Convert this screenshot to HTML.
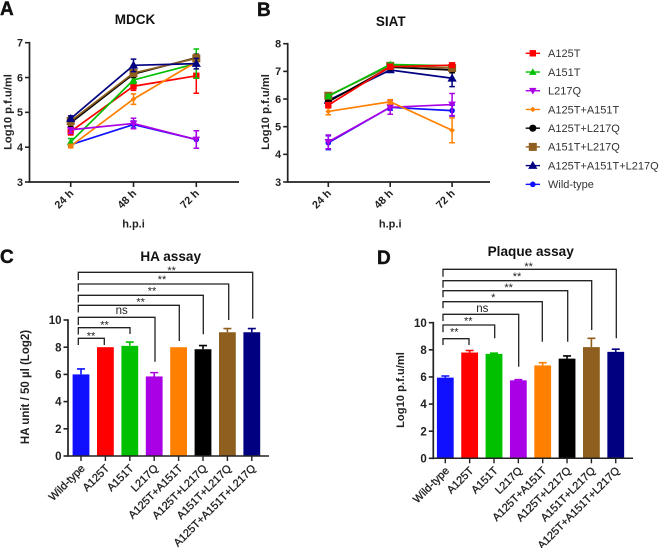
<!DOCTYPE html>
<html>
<head>
<meta charset="utf-8">
<title>Virus growth and assay charts</title>
<style>
html,body{margin:0;padding:0;background:#fff;width:660px;height:548px;overflow:hidden}
svg{display:block;font-family:"Liberation Sans",sans-serif;filter:blur(0.3px)}
</style>
</head>
<body>
<svg id="fig" xmlns="http://www.w3.org/2000/svg" width="660" height="548" viewBox="0 0 660 548"></svg>
<script>
// Shared categories
const timeLabels = ["24 h", "48 h", "72 h"];
const strains = ["A125T", "A151T", "L217Q", "A125T+A151T", "A125T+L217Q", "A151T+L217Q", "A125T+A151T+L217Q", "Wild-type"];
const barCategories = ["Wild-type", "A125T", "A151T", "L217Q", "A125T+A151T", "A125T+L217Q", "A151T+L217Q", "A125T+A151T+L217Q"];

// Panel A (MDCK) values
const mdckA125T = [4.45, 5.75, 6.05];
const mdckA151T = [4.15, 5.93, 6.4];
const mdckL217Q = [4.5, 4.68, 4.22];
const mdckDouble1 = [4.03, 5.38, 6.45];
const mdckDouble2 = [4.7, 6.1, 6.57];
const mdckDouble3 = [4.75, 6.13, 6.55];
const mdckTriple = [4.82, 6.35, 6.4];
const mdckWild = [4.07, 4.65, 4.22];
const mdckA125TErr = [0.1, 0.12, 0.5];
const mdckA151TErr = [0.1, 0.1, 0.42];
const mdckL217QErr = [0.1, 0.15, 0.25];
const mdckDouble1Err = [0.05, 0.15, 0.1];
const mdckDouble2Err = [0.1, 0.1, 0.1];
const mdckDouble3Err = [0.12, 0.1, 0.1];
const mdckTripleErr = [0.08, 0.18, 0.15];
const mdckWildErr = [0.04, 0.1, 0.25];

// Panel B (SIAT) values
const siatA125T = [5.78, 7.17, 7.22];
const siatA151T = [6.1, 7.25, 7.2];
const siatL217Q = [4.45, 5.7, 5.8];
const siatDouble1 = [5.55, 5.9, 4.87];
const siatDouble2 = [5.9, 7.15, 7.05];
const siatDouble3 = [6.12, 7.2, 7.12];
const siatTriple = [5.95, 7.05, 6.75];
const siatWild = [4.42, 5.7, 5.58];
const siatA125TErr = [0.08, 0.05, 0.05];
const siatA151TErr = [0.06, 0.05, 0.05];
const siatL217QErr = [0.25, 0.25, 0.4];
const siatDouble1Err = [0.12, 0.08, 0.45];
const siatDouble2Err = [0.08, 0.05, 0.1];
const siatDouble3Err = [0.08, 0.05, 0.08];
const siatTripleErr = [0.1, 0.08, 0.3];
const siatWildErr = [0.25, 0.1, 0.2];

// Panel C and D values
const haValues = [6, 8, 8.1, 5.85, 8, 7.85, 9.1, 9.1];
const haErrors = [0.4, 0, 0.28, 0.28, 0, 0.27, 0.27, 0.27];
const haSig = ["**", "**", "ns", "**", "**", "**", "**"];
const plaqueValues = [5.95, 7.8, 7.7, 5.75, 6.85, 7.35, 8.2, 7.85];
const plaqueErrors = [0.12, 0.15, 0.05, 0.05, 0.2, 0.2, 0.65, 0.2];
const plaqueSig = ["**", "**", "ns", "*", "**", "**", "**"];

// Axis ticks
const mdckTicks = [3, 4, 5, 6, 7];
const siatTicks = [3, 4, 5, 6, 7, 8];
const barTicks = [0, 2, 4, 6, 8, 10];

const strainColor = {"A125T":"#ff0000","A151T":"#00c000","L217Q":"#a900e6","A125T+A151T":"#ff8000","A125T+L217Q":"#000000","A151T+L217Q":"#8f5f1f","A125T+A151T+L217Q":"#000080","Wild-type":"#1010ff"};
const strainMarker = {"A125T":"sq","A151T":"up","L217Q":"down","A125T+A151T":"dia","A125T+L217Q":"circ","A151T+L217Q":"bigsq","A125T+A151T+L217Q":"up2","Wild-type":"circs"};
const INK = "#222";
const NS = "http://www.w3.org/2000/svg";
const fig = document.getElementById("fig");

function mk(tag, attrs, parent, txt){
  const e = document.createElementNS(NS, tag);
  for (const k in attrs) e.setAttribute(k, attrs[k]);
  if (txt !== undefined) e.textContent = txt;
  (parent || fig).appendChild(e);
  return e;
}
function group(name, parent){
  const g = mk("g", {}, parent);
  
  
  return g;
}
function label(name, parent, attrs, txt){
  const t = mk("text", attrs, parent, txt);
  
  
  return t;
}
function marker(parent, type, x, y, c){
  const s = {sq:3.2, bigsq:4, circ:3.6, circs:2.8};
  if (type === "sq" || type === "bigsq") mk("rect", {x:x-s[type], y:y-s[type], width:2*s[type], height:2*s[type], fill:c}, parent);
  else if (type === "circ" || type === "circs") mk("circle", {cx:x, cy:y, r:s[type], fill:c}, parent);
  else if (type === "up") mk("polygon", {points:`${x},${y-3.8} ${x+3.8},${y+2.9} ${x-3.8},${y+2.9}`, fill:c}, parent);
  else if (type === "up2") mk("polygon", {points:`${x},${y-4.8} ${x+4.6},${y+3.3} ${x-4.6},${y+3.3}`, fill:c}, parent);
  else if (type === "down") mk("polygon", {points:`${x},${y+3.8} ${x+3.8},${y-2.9} ${x-3.8},${y-2.9}`, fill:c}, parent);
  else mk("polygon", {points:`${x},${y-2.8} ${x+2.8},${y} ${x},${y+2.8} ${x-2.8},${y}`, fill:c}, parent);
}

function yAxis(g, axisX, scale, ticks, fs, tickLen){
  mk("line", {x1:axisX, x2:axisX, y1:scale(ticks[ticks.length-1])-0.8, y2:scale(ticks[0])+0.8, stroke:INK, "stroke-width":1.7}, g);
  ticks.forEach(t => {
    mk("line", {x1:axisX-tickLen, x2:axisX, y1:scale(t), y2:scale(t), stroke:INK, "stroke-width":1.6}, g);
    label("y-tick-label-" + t, g, {x:axisX-tickLen-2, y:scale(t)+fs*0.36, "text-anchor":"end", "font-size":fs, "font-weight":"bold", fill:INK}, t);
  });
}

function linePanel(cfg){
  const g = group(cfg.name);
  const sy = v => cfg.y0 + (v - cfg.vMin) * (cfg.yTop - cfg.y0) / (cfg.vMax - cfg.vMin);
  const sx = i => cfg.xs[0] + i * (cfg.xs[1] - cfg.xs[0]);
  yAxis(g, cfg.axisX, sy, cfg.ticks, 10.8, 4.5);
  mk("line", {x1:cfg.axisX, x2:cfg.xEnd, y1:cfg.y0, y2:cfg.y0, stroke:INK, "stroke-width":1.7}, g);
  timeLabels.forEach((t, i) => {
    const x = sx(i);
    mk("line", {x1:x, x2:x, y1:cfg.y0, y2:cfg.y0+5, stroke:INK, "stroke-width":1.6}, g);
    label("x-tick-label-" + t.replace(" ", ""), g, {x:x+3.5, y:cfg.y0+12, "text-anchor":"end", "font-size":10.8, "font-weight":"bold", fill:INK, transform:`rotate(-45 ${x+3.5} ${cfg.y0+12})`}, t);
  });
  cfg.order.forEach(name => {
    const k = strains.indexOf(name);
    const c = strainColor[name];
    const sg = group("series-" + name.toLowerCase().replace(/\+/g, "-"), g);
    const vals = cfg.values[k], errs = cfg.errors[k];
    mk("polyline", {points:vals.map((v, i) => sx(i) + "," + sy(v)).join(" "), fill:"none", stroke:c, "stroke-width":1.7}, sg);
    vals.forEach((v, i) => {
      const x = sx(i), a = sy(v + errs[i]), b = sy(v - errs[i]);
      mk("path", {d:`M${x} ${a}V${b}M${x-2.8} ${a}H${x+2.8}M${x-2.8} ${b}H${x+2.8}`, fill:"none", stroke:c, "stroke-width":1.5}, sg);
      marker(sg, strainMarker[name], x, sy(v), c);
    });
  });
  label("chart-title", g, {x:cfg.titleX, y:cfg.titleY, "text-anchor":"middle", "font-size":13.5, "font-weight":"bold", fill:"#111"}, cfg.title);
  label("x-axis-title", g, {x:sx(1), y:227.5, "text-anchor":"middle", "font-size":11, "font-weight":"bold", fill:INK}, "h.p.i");
  label("y-axis-title", g, {x:cfg.yLabelX, y:cfg.yLabelY, "text-anchor":"middle", "font-size":11.2, "font-weight":"bold", fill:INK, transform:`rotate(-90 ${cfg.yLabelX} ${cfg.yLabelY})`}, "Log10 p.f.u/ml");
}

function barPanel(cfg){
  const g = group(cfg.name);
  const sy = v => cfg.y0 + v * (cfg.yTop - cfg.y0) / 10;
  const sx = i => cfg.x0 + i * cfg.step;
  const colors = barCategories.map(n => strainColor[n]);
  barCategories.forEach((n, i) => {
    const x = sx(i), v = cfg.values[i], e = cfg.errors[i];
    const bar = mk("rect", {x:x-8.4, y:sy(v), width:16.8, height:cfg.y0-sy(v), fill:colors[i]}, g);
    
    
    if (e > 0) mk("path", {d:`M${x} ${sy(v)}V${sy(v+e)}M${x-4} ${sy(v+e)}H${x+4}`, fill:"none", stroke:colors[i], "stroke-width":1.6}, g);
  });
  yAxis(g, cfg.axisX, sy, barTicks, 11.5, 4.5);
  mk("line", {x1:cfg.axisX, x2:cfg.xEnd, y1:cfg.y0, y2:cfg.y0, stroke:INK, "stroke-width":1.5}, g);
  barCategories.forEach((n, i) => {
    const x = sx(i);
    mk("line", {x1:x, x2:x, y1:cfg.y0, y2:cfg.y0+5, stroke:INK, "stroke-width":1.4}, g);
    const lx = x + 4.5, ly = cfg.y0 + 13;
    label("x-tick-label-" + n.toLowerCase().replace(/\+/g, "-"), g, {x:lx, y:ly, "text-anchor":"end", "font-size":11, fill:INK, stroke:INK, "stroke-width":0.3, transform:`rotate(-45 ${lx} ${ly})`}, n);
  });
  cfg.brackets.forEach((b, i) => {
    const bg = group("significance-bracket-" + (i + 1), g);
    mk("path", {d:`M${cfg.bracketX} ${b.drop}V${b.y}H${b.x}V${b.end}`, fill:"none", stroke:"#222", "stroke-width":1.3}, bg);
    const ns = cfg.sig[i] === "ns";
    label("significance-label", bg, {x:b.tx, y:ns ? b.ty : b.ty + 5.5, "text-anchor":"middle", "font-size":ns ? 11.5 : 11, fill:"#222"}, cfg.sig[i]);
  });
  label("chart-title", g, {x:cfg.titleX, y:cfg.titleY, "text-anchor":"middle", "font-size":13.6, "font-weight":"bold", fill:"#111"}, cfg.title);
  label("y-axis-title", g, {x:cfg.yLabelX, y:cfg.yLabelY, "text-anchor":"middle", "font-size":cfg.yLabelSize, "font-weight":"bold", fill:INK, transform:`rotate(-90 ${cfg.yLabelX} ${cfg.yLabelY})`}, cfg.yLabel);
}

const legendOrder = ["Wild-type", "A125T", "A151T", "A125T+A151T", "L217Q", "A125T+L217Q", "A151T+L217Q", "A125T+A151T+L217Q"];

linePanel({
  name:"panel-a-mdck", title:"MDCK", titleX:135, titleY:24, axisX:29.5, xEnd:239, y0:182, yTop:42.7, vMin:3, vMax:7,
  xs:[70.7, 133.5], ticks:mdckTicks, yLabelX:11.5, yLabelY:112, order:legendOrder,
  values:[mdckA125T, mdckA151T, mdckL217Q, mdckDouble1, mdckDouble2, mdckDouble3, mdckTriple, mdckWild],
  errors:[mdckA125TErr, mdckA151TErr, mdckL217QErr, mdckDouble1Err, mdckDouble2Err, mdckDouble3Err, mdckTripleErr, mdckWildErr]
});
linePanel({
  name:"panel-b-siat", title:"SIAT", titleX:390.7, titleY:26, axisX:287.7, xEnd:490, y0:182, yTop:43.7, vMin:3, vMax:8,
  xs:[328.3, 390.2], ticks:siatTicks, yLabelX:269, yLabelY:112,
  order:["Wild-type", "L217Q", "A125T+A151T", "A125T+A151T+L217Q", "A125T+L217Q", "A151T+L217Q", "A151T", "A125T"],
  values:[siatA125T, siatA151T, siatL217Q, siatDouble1, siatDouble2, siatDouble3, siatTriple, siatWild],
  errors:[siatA125TErr, siatA151TErr, siatL217QErr, siatDouble1Err, siatDouble2Err, siatDouble3Err, siatTripleErr, siatWildErr]
});
barPanel({
  name:"panel-c-ha-assay", title:"HA assay", titleX:170.7, titleY:261, axisX:68, xEnd:269, y0:456, yTop:320,
  x0:81, step:24.4, values:haValues, errors:haErrors, sig:haSig, bracketX:78.3,
  yLabel:"HA unit / 50 µl (Log2)", yLabelSize:11.5, yLabelX:29, yLabelY:387,
  brackets:[
    {x:104.3, y:338.3, end:345, drop:345, tx:91, ty:334},
    {x:130, y:327.7, end:334, drop:334.5, tx:104.5, ty:323},
    {x:155, y:317.3, end:361.7, drop:325, tx:121.7, ty:314},
    {x:179.3, y:305.3, end:341, drop:312.5, tx:140.7, ty:300},
    {x:203.3, y:295.3, end:334.3, drop:302.5, tx:152, ty:289},
    {x:228.7, y:284, end:320, drop:291.5, tx:162, ty:277.7},
    {x:252.7, y:272.3, end:318.7, drop:280, tx:171.7, ty:268.3}
  ]
});
barPanel({
  name:"panel-d-plaque-assay", title:"Plaque assay", titleX:530.7, titleY:256, axisX:433.3, xEnd:633, y0:458.3, yTop:322.7,
  x0:445.3, step:24.35, values:plaqueValues, errors:plaqueErrors, sig:plaqueSig, bracketX:443,
  yLabel:"Log10 p.f.u/ml", yLabelSize:11.2, yLabelX:404, yLabelY:390,
  brackets:[
    {x:469, y:338.7, end:345, drop:345, tx:454.3, ty:330},
    {x:494.7, y:325, end:338.3, drop:332.3, tx:468.3, ty:319},
    {x:518.7, y:314.3, end:366.7, drop:321, tx:482.3, ty:312},
    {x:542.3, y:301.7, end:341.7, drop:308.3, tx:493.3, ty:295.7},
    {x:567.7, y:290.7, end:341.7, drop:297.3, tx:508.7, ty:285.7},
    {x:591.7, y:280.7, end:330, drop:287.7, tx:517, ty:274.7},
    {x:616.3, y:269.3, end:338.3, drop:276.7, tx:528.7, ty:264.3}
  ]
});

// Legend
const legend = group("legend");
strains.forEach((n, i) => {
  const y = 53.3 + i * 18.72;
  const c = strainColor[n];
  const e = group("legend-entry-" + n.toLowerCase().replace(/\+/g, "-"), legend);
  mk("line", {x1:525.7, x2:540, y1:y, y2:y, stroke:c, "stroke-width":1.4}, e);
  marker(e, strainMarker[n], 532.8, y, c);
  label("legend-label", e, {x:548, y:y+3.8, "font-size":11, fill:"#333"}, n);
});

// Panel letters
[["A", 0, 15], ["B", 257, 16], ["C", 0, 263], ["D", 377, 264]].forEach(p => {
  label("panel-letter-" + p[0].toLowerCase(), fig, {x:p[1], y:p[2], "font-size":19, "font-weight":"bold", fill:"#111", stroke:"#111", "stroke-width":0.4}, p[0]);
});
</script>
</body>
</html>
